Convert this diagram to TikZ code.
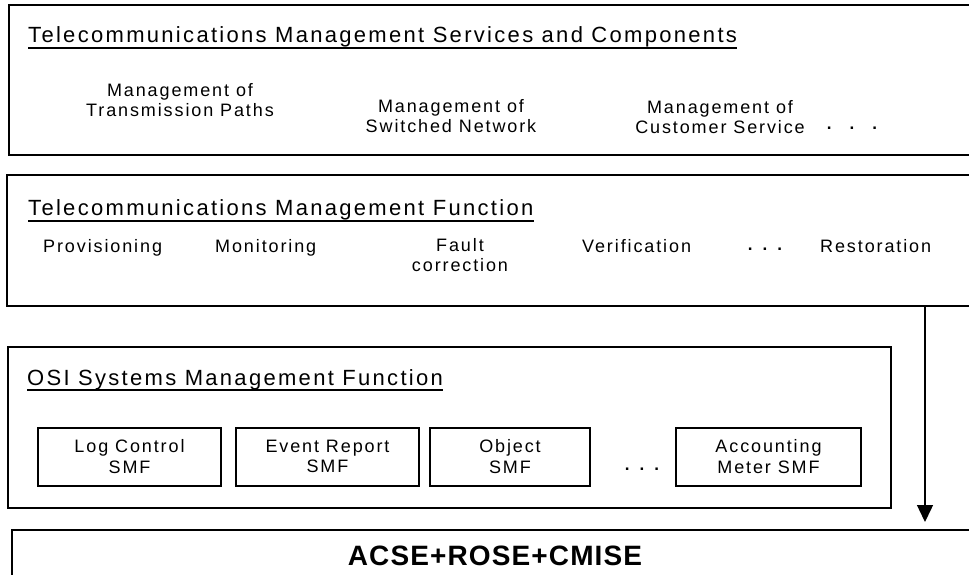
\documentclass[tikz,border=0pt]{standalone}
\usepackage{fontspec}
\setmainfont{Liberation Sans}
\newfontfamily\ttlfont{Liberation Sans}[LetterSpace=10.5]
\newfontfamily\itemfont{Liberation Sans}[LetterSpace=10.5]
\newfontfamily\bigfont{Liberation Sans}[LetterSpace=4]
\usetikzlibrary{arrows.meta}
\tikzset{
  frame/.style={line width=1.6pt, line join=miter},
  ttl/.style={inner sep=0pt, anchor=base west, font=\ttlfont\fontsize{22}{26}\selectfont},
  uline/.style={line width=1.4pt},
  itm/.style={inner sep=0pt, align=center, font=\itemfont\fontsize{18}{20.5}\selectfont},
  itmb/.style={itm, anchor=base west},
  itmn/.style={itm, anchor=north},
  dotsn/.style={inner sep=0pt, font=\bfseries\fontsize{17}{20}\selectfont},
  subbox/.style={draw, line width=1.4pt, itm, minimum height=58pt},
  arr/.style={line width=1.4pt, -{Triangle[width=16pt,length=17pt]}},
}
\begin{document}
\begin{tikzpicture}[x=1pt,y=-1pt]
\useasboundingbox (0,0) rectangle (969,574);
% frames
\draw[frame] (975,5) -- (9,5) -- (9,155) -- (975,155);
\draw[frame] (975,175) -- (7,175) -- (7,306) -- (975,306);
\draw[frame] (8,347) rectangle (891,508);
\draw[frame] (975,530) -- (12,530) -- (12,580);

% titles
\node[ttl] (t1) at (28,42) {Telecommunications Management Services and Components};
\draw[uline] ([yshift=-6pt]t1.base west) -- ([yshift=-6pt]t1.base east);
\node[ttl] (t2) at (28,215) {Telecommunications Management Function};
\draw[uline] ([yshift=-6pt]t2.base west) -- ([yshift=-6pt]t2.base east);
\node[ttl] (t3) at (27,385) {OSI Systems Management Function};
\draw[uline] ([yshift=-5pt]t3.base west) -- ([yshift=-5pt]t3.base east);

% top box items
\node[itmn] (n1) at (180,83) {Management of\\Transmission Paths};
\node[itmn] (n2) at (451,99) {Management of\\Switched Network};
\node[itmn] (n3) at (720,100) {Management of\\Customer Service};
\node[dotsn] (d1) at (852,128) {.\hspace{18pt}.\hspace{18pt}.};

% second box items
\node[itmb] (f1) at (43,252) {Provisioning};
\node[itmb] (f2) at (215,252) {Monitoring};
\node[itmn] (f3) at (460,238) {Fault\\correction};
\node[itmb] (f4) at (582,252) {Verification};
\node[dotsn] (d2) at (765,249) {.\hspace{10pt}.\hspace{10pt}.};
\node[itmb] (f5) at (820,252) {Restoration};

% SMF boxes
\node[subbox, minimum width=183pt, text depth=1pt] (s1) at (129.5,457) {Log Control\\SMF};
\node[subbox, minimum width=183pt, text depth=1pt] (s2) at (327.5,457) {Event Report\\SMF};
\node[subbox, minimum width=160pt, text depth=1pt] (s3) at (510,457) {Object\\SMF};
\node[dotsn] (d3) at (642,469) {.\hspace{10pt}.\hspace{10pt}.};
\node[subbox, minimum width=185pt, text depth=1pt] (s4) at (768.5,457) {Accounting\\Meter SMF};

% bottom
\node[inner sep=0pt, anchor=base, font=\bigfont\bfseries\fontsize{28}{32}\selectfont] (acse) at (495,565) {ACSE+ROSE+CMISE};

% arrow
\coordinate (aS) at (925,306);
\coordinate (aE) at (925,530);
\draw[arr, shorten >=8pt] (aS) -- (aE);
\end{tikzpicture}
\end{document}
